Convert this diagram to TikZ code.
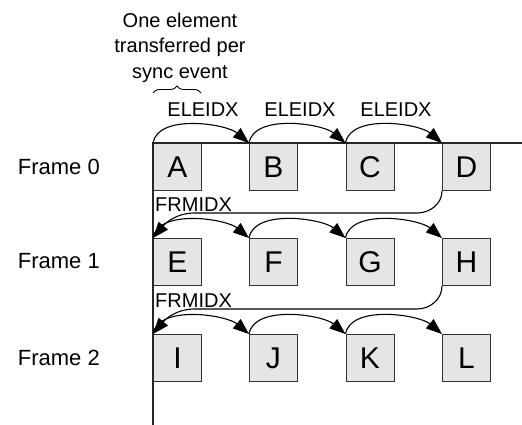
\documentclass[tikz,border=0pt]{standalone}
\usepackage{fontspec}
\setmainfont{Liberation Sans}
\usetikzlibrary{arrows.meta,decorations.pathreplacing}

\begin{document}
\begin{tikzpicture}[x=1pt,y=1pt,
    cell/.style={draw=black!80,fill=black!10,line width=0.9pt,minimum width=48pt,
        minimum height=47pt,inner sep=0pt,anchor=north west,font=\fontsize{30}{30}\selectfont},
    idx/.style={line width=1.1pt,-{Triangle[length=16pt,width=12pt]}},
    lbl/.style={font=\fontsize{20}{25.5}\selectfont,inner sep=0pt},
    frm/.style={font=\fontsize{22}{26}\selectfont,inner sep=0pt,anchor=east}]
    \useasboundingbox (0,0) rectangle (522,425);

    % element cells, one row per frame
    \node[cell] (A) at (153,282) {A}; \node[cell] (B) at (249,282) {B};
    \node[cell] (C) at (345.5,282) {C}; \node[cell] (D) at (442,282) {D};
    \node[cell] (E) at (153,187) {E}; \node[cell] (F) at (249,187) {F};
    \node[cell] (G) at (345.5,187) {G}; \node[cell] (H) at (442,187) {H};
    \node[cell] (I) at (153,91) {I}; \node[cell] (J) at (249,91) {J};
    \node[cell] (K) at (345.5,91) {K}; \node[cell] (L) at (442,91) {L};

    \node[frm] (f0) at (100,258.5) {Frame 0};
    \node[frm] (f1) at (100,163.5) {Frame 1};
    \node[frm] (f2) at (100,67.5) {Frame 2};

    % axes
    \coordinate (origin) at (153,282);
    \coordinate (xend) at (522,282);
    \coordinate (yend) at (153,0);
    \draw[line width=1.3pt,black!85] (xend) -- (origin) -- (yend);

    % element index steps
    \draw[idx] (A.north west) to[out=80,in=140,looseness=0.8] (B.north west);
    \draw[idx] (B.north west) to[out=80,in=140,looseness=0.8] (C.north west);
    \draw[idx] (C.north west) to[out=80,in=140,looseness=0.8] (D.north west);
    \draw[idx] (E.north west) to[out=80,in=140,looseness=0.8] (F.north west);
    \draw[idx] (F.north west) to[out=80,in=140,looseness=0.8] (G.north west);
    \draw[idx] (G.north west) to[out=80,in=140,looseness=0.8] (H.north west);
    \draw[idx] (I.north west) to[out=80,in=140,looseness=0.8] (J.north west);
    \draw[idx] (J.north west) to[out=80,in=140,looseness=0.8] (K.north west);
    \draw[idx] (K.north west) to[out=80,in=140,looseness=0.8] (L.north west);
    \node[lbl,anchor=base] (e1) at (203,308) {ELEIDX};
    \node[lbl,anchor=base] (e2) at (300,308) {ELEIDX};
    \node[lbl,anchor=base] (e3) at (396,308) {ELEIDX};

    % frame index steps
    \coordinate (r0a) at (417,212); \coordinate (r0b) at (195,212);
    \coordinate (r1a) at (417,116); \coordinate (r1b) at (195,116);
    \draw[idx] (D.south west) to[out=-90,in=0] (r0a) -- (r0b) to[out=180,in=50] (E.north west);
    \draw[idx] (H.south west) to[out=-90,in=0] (r1a) -- (r1b) to[out=180,in=50] (I.north west);
    \node[lbl,anchor=base west] (fr0) at (155,213.5) {FRMIDX};
    \node[lbl,anchor=base west] (fr1) at (155,117.5) {FRMIDX};

    % note over the first cell
    \node[lbl,anchor=north,align=center] (note) at (180,412.5) {One element\\transferred per\\sync event};
    \coordinate (bl) at (153,332); \coordinate (br) at (201,332);
    \draw[line width=0.9pt,decorate,decoration={brace,amplitude=7pt}] (bl) -- (br);
\end{tikzpicture}
\end{document}
